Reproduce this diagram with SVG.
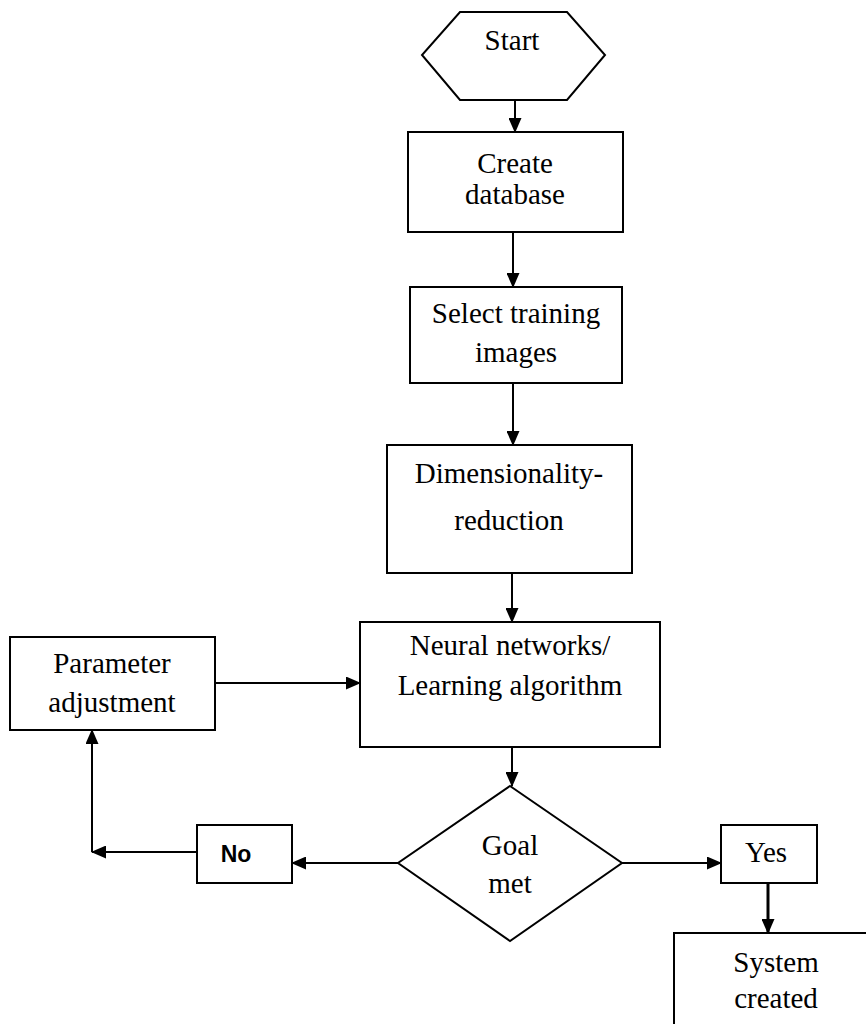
<svg xmlns="http://www.w3.org/2000/svg" width="866" height="1026" viewBox="0 0 866 1026">
<defs>
<style>
.box{fill:#fff;stroke:#000;stroke-width:2}
.t{font-family:"Liberation Serif","Times New Roman",serif;font-size:29px;fill:#000;text-anchor:middle}
.s{font-family:"Liberation Sans",Arial,sans-serif;font-size:23px;font-weight:bold;fill:#000;text-anchor:middle}
.c{fill:none;stroke:#000;stroke-width:2}
</style>
<marker id="ah" markerWidth="15" markerHeight="13" refX="14" refY="6.5" orient="auto" markerUnits="userSpaceOnUse">
<path d="M0,0 L15,6.5 L0,13 Z" fill="#000"/>
</marker>
</defs>
<rect width="866" height="1026" fill="#fff"/>
<g id="connectors">
<path class="c" d="M515,100 V132" marker-end="url(#ah)"/>
<path class="c" d="M513,232 V287" marker-end="url(#ah)"/>
<path class="c" d="M513,383 V445" marker-end="url(#ah)"/>
<path class="c" d="M512,573 V622" marker-end="url(#ah)"/>
<path class="c" d="M215,683 H360" marker-end="url(#ah)"/>
<path class="c" d="M512,747 V786" marker-end="url(#ah)"/>
<path class="c" d="M398,863 H292" marker-end="url(#ah)"/>
<path class="c" d="M197,852 H92" marker-end="url(#ah)"/>
<path class="c" d="M92,852 V730" marker-end="url(#ah)"/>
<path class="c" d="M622,863 H721" marker-end="url(#ah)"/>
<path class="c" style="stroke-width:3" d="M768,883 V933" marker-end="url(#ah)"/>
</g>
<g id="start">
<polygon class="box" points="460,12 567,12 605,55 567,100 460,100 422,55"/>
<text class="t" x="512" y="50">Start</text>
</g>
<g id="create">
<rect class="box" x="408" y="132" width="215" height="100"/>
<text class="t" x="515" y="173">Create</text>
<text class="t" x="515" y="204">database</text>
</g>
<g id="select">
<rect class="box" x="410" y="287" width="212" height="96"/>
<text class="t" x="516" y="323">Select training</text>
<text class="t" x="516" y="362">images</text>
</g>
<g id="dim">
<rect class="box" x="387" y="445" width="245" height="128"/>
<text class="t" x="509" y="483">Dimensionality-</text>
<text class="t" x="509" y="530">reduction</text>
</g>
<g id="neural">
<rect class="box" x="360" y="622" width="300" height="125"/>
<text class="t" x="510" y="655">Neural networks/</text>
<text class="t" x="510" y="695">Learning algorithm</text>
</g>
<g id="param">
<rect class="box" x="10" y="637" width="205" height="93"/>
<text class="t" x="112" y="673">Parameter</text>
<text class="t" x="112" y="712">adjustment</text>
</g>
<g id="goal">
<polygon class="box" points="510,786 622,863 510,941 398,863"/>
<text class="t" x="510" y="855">Goal</text>
<text class="t" x="510" y="893">met</text>
</g>
<g id="no">
<rect class="box" x="197" y="825" width="95" height="58"/>
<text class="s" x="236" y="862">No</text>
</g>
<g id="yes">
<rect class="box" x="721" y="825" width="96" height="58"/>
<text class="t" x="766" y="862">Yes</text>
</g>
<g id="system">
<path class="c" d="M674,1024 V933 H866"/>
<text class="t" x="776" y="972">System</text>
<text class="t" x="776" y="1008">created</text>
</g>
</svg>
